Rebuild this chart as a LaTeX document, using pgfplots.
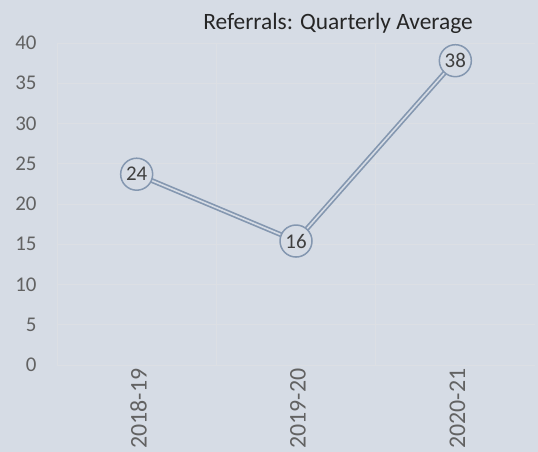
\documentclass[border=0pt]{standalone}
\usepackage{pgfplots}
\pgfplotsset{compat=1.18}
\usepackage{fontspec}
\setmainfont{Carlito}
\definecolor{bg}{HTML}{D6DCE5}
\definecolor{ln}{HTML}{8497B0}
\definecolor{tk}{HTML}{626262}
\definecolor{gr}{HTML}{DCDFE4}
\begin{document}
\begin{tikzpicture}[x=1bp,y=1bp]
\fill[bg] (0,0) rectangle (538,452);
\node[anchor=center, font=\fontsize{23.5}{28}\selectfont, text=black!85] at (338,429) {Referrals: Quarterly Average};
\begin{axis}[
  at={(57bp,87bp)}, anchor=south west,
  scale only axis, width=478bp, height=322bp,
  xmin=-0.5, xmax=2.5, ymin=0, ymax=40,
  ytick={0,5,...,40},
  xtick={0,1,2}, xticklabels={2018-19,2019-20,2020-21},
  minor xtick={0.5,1.5},
  xminorgrids, ymajorgrids,
  grid style={gr, line width=0.7pt},
  minor grid style={gr, line width=0.7pt},
  axis line style={draw=none},
  axis x line*=bottom, axis y line*=left,
  major tick length=0pt, minor tick length=0pt,
  tick style={draw=none},
  x tick label style={rotate=90, anchor=east, font=\fontsize{24}{28}\selectfont, text=tk, yshift=-2bp},
  y tick label style={anchor=east, xshift=-17bp, font=\fontsize{21}{25}\selectfont, text=tk},
  /pgf/number format/assume math mode=true,
  clip=false,
]
\addplot[gr, line width=0.7pt, forget plot] coordinates {(-0.5,0) (2.5,0)};
\addplot[gr, line width=0.7pt, forget plot] coordinates {(-0.5,0) (-0.5,40)};
\addplot[ln, line width=5bp, forget plot] coordinates {(0,23.7) (1,15.4) (2,37.8)};
\addplot[bg, line width=1.6bp, forget plot] coordinates {(0,23.7) (1,15.4) (2,37.8)};
\addplot[only marks, mark=*, mark size=16bp,
  mark options={fill=bg, draw=ln, line width=1.5bp},
  point meta=explicit symbolic,
  nodes near coords, nodes near coords align=center,
  every node near coord/.style={anchor=center, font=\fontsize{21}{25}\selectfont, text=black!75}]
  coordinates {(0,23.7)[24] (1,15.4)[16] (2,37.8)[38]};
\end{axis}
\end{tikzpicture}
\end{document}
